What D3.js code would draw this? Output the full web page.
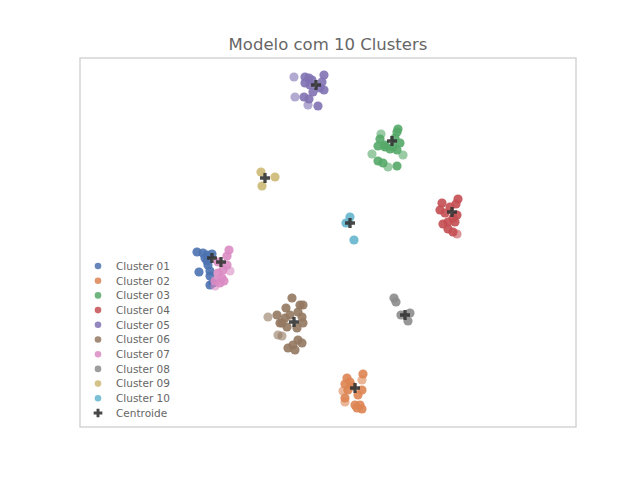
<!DOCTYPE html>
<html>
<head>
<meta charset="utf-8">
<script src="https://cdn.jsdelivr.net/npm/d3@7"></script>
<style>
  html, body { margin: 0; padding: 0; background: #fff; }
  svg { display: block; font-family: "DejaVu Sans", sans-serif; }
</style>
</head>
<body>
<svg id="chart" width="640" height="480"></svg>
<script>
// ---- Data (points as [x, y, faded]) ----
const clusterNames = ["Cluster 01","Cluster 02","Cluster 03","Cluster 04","Cluster 05",
                      "Cluster 06","Cluster 07","Cluster 08","Cluster 09","Cluster 10"];
const centroidLabel = "Centroide";
const titleText = "Modelo com 10 Clusters";

const cluster01 = [[11.7,17.5,0],[12.3,17.4,0],[12.7,17.2,0],[13.2,17.3,0],[12.7,16.6,0],[12.8,16.2,0],
  [11.9,15.5,0],[13.0,15.6,0],[13.0,15.1,0],[13.0,14.2,0],[13.3,14.4,0],[12.5,16.9,0]];
const cluster02 = [[26.7,4.9,0],[27.0,4.5,0],[26.5,4.3,0],[28.3,5.3,0],[28.2,4.7,1],[26.8,3.7,0],
  [28.2,3.7,0],[26.3,3.6,1],[27.8,3.2,0],[26.5,2.9,0],[26.5,2.5,1],[27.5,2.2,0],[28.0,2.2,0],
  [28.2,1.8,0],[27.7,1.9,0],[27.2,4.1,0]];
const cluster03 = [[31.8,29.8,0],[31.7,29.5,0],[30.1,29.3,1],[31.5,28.9,0],[30.0,28.8,0],[32.0,28.4,0],
  [29.8,28.1,0],[30.5,28.0,0],[31.0,27.8,0],[31.7,27.7,0],[29.2,27.3,1],[32.3,27.2,1],[29.8,26.6,0],
  [30.3,26.4,0],[30.8,26.0,1],[31.7,26.1,0],[30.5,28.2,0],[31.3,28.0,0]];
const cluster04 = [[37.8,22.8,0],[37.6,22.3,0],[36.2,22.4,0],[36.0,21.7,0],[36.5,21.4,0],[37.7,21.2,0],
  [37.3,20.9,0],[36.8,20.5,0],[37.5,20.5,0],[36.3,20.3,0],[36.8,19.8,0],[37.3,19.5,0],[37.7,19.3,1],
  [37.0,22.0,0]];
const cluster05 = [[21.4,35.0,1],[22.5,35.0,0],[22.9,34.9,0],[24.4,35.2,0],[22.5,34.4,0],[23.0,34.2,0],
  [24.0,33.9,0],[24.4,33.7,0],[23.3,33.5,0],[21.5,33.0,1],[22.4,33.0,0],[22.9,32.8,0],[22.8,32.2,1],
  [23.8,32.1,0],[24.2,34.5,0],[23.2,34.7,0]];
const cluster06 = [[18.8,11.0,1],[19.7,11.2,0],[20.0,10.4,0],[20.5,10.9,0],[20.6,11.9,0],[21.2,12.9,0],
  [22.0,12.2,0],[22.3,12.2,0],[21.8,11.5,0],[22.2,11.0,0],[22.3,10.4,0],[21.7,9.9,0],[20.7,10.0,0],
  [19.8,9.2,1],[20.2,9.1,1],[21.8,8.7,0],[22.2,8.4,0],[21.3,8.2,0],[20.8,7.9,0],[21.5,7.7,0],
  [20.2,10.4,0],[21.0,11.2,0]];
const cluster07 = [[14.9,17.7,0],[14.7,17.1,0],[14.7,16.2,0],[15.0,15.6,1],[13.8,15.4,0],[14.2,14.9,0],
  [13.5,14.6,0],[13.5,14.1,1],[14.0,14.4,0],[14.3,15.7,0],[14.4,14.6,0],[13.8,16.5,0]];
const cluster08 = [[31.4,12.9,0],[31.6,12.5,0],[32.1,11.2,0],[33.0,11.4,0],[32.8,10.6,0]];
const cluster09 = [[18.1,25.5,0],[19.5,25.0,0],[18.2,24.1,0]];
const cluster10 = [[27.0,21.0,0],[26.6,20.4,0],[27.4,18.7,0]];

const centroidsX = [13.2, 27.5, 31.2, 37.2, 23.6, 21.4, 14.1, 32.5, 18.5, 27.0];
const centroidsY = [16.9, 3.9, 28.6, 21.5, 34.2, 10.5, 16.5, 11.2, 24.9, 20.4];

const clusters = [cluster01, cluster02, cluster03, cluster04, cluster05,
                  cluster06, cluster07, cluster08, cluster09, cluster10];

// ---- Styles ----
const palette = ["#4C72B0","#DD8452","#55A868","#C44E52","#8172B3",
                 "#937860","#DA8BC3","#8C8C8C","#CCB974","#64B5CD"];

const svg = d3.select("#chart");
const frame = {left: 80, right: 576, top: 58, bottom: 427};

const x = d3.scaleLinear().domain([0, 49.6]).range([frame.left, frame.right]);
const y = d3.scaleLinear().domain([0, 36.9]).range([frame.bottom, frame.top]);

// Title
svg.append("text")
  .attr("x", 328).attr("y", 50)
  .attr("text-anchor", "middle")
  .attr("font-size", 16.5)
  .attr("fill", "#666666")
  .text(titleText);

// Frame
svg.append("rect")
  .attr("x", frame.left).attr("y", frame.top)
  .attr("width", frame.right - frame.left)
  .attr("height", frame.bottom - frame.top)
  .attr("fill", "none")
  .attr("stroke", "#cccccc")
  .attr("stroke-width", 1.25);

// Points
const pts = svg.append("g");
clusters.forEach((pts_, i) => {
  pts.selectAll(null)
    .data(pts_)
    .enter().append("circle")
    .attr("cx", d => x(d[0]))
    .attr("cy", d => y(d[1]))
    .attr("r", 4.6)
    .attr("fill", palette[i])
    .attr("fill-opacity", d => d[2] ? 0.6 : 0.9);
});

// Centroids
const cross = d3.symbol().type(d3.symbolCross).size(55);
svg.append("g").selectAll("path")
  .data(d3.range(centroidsX.length))
  .enter().append("path")
  .attr("d", cross)
  .attr("transform", i => `translate(${x(centroidsX[i])},${y(centroidsY[i])})`)
  .attr("fill", "#333333")
  .attr("fill-opacity", 0.9);

// Legend
const leg = svg.append("g");
const legY0 = 266, legDy = 14.7;
clusterNames.forEach((name, i) => {
  leg.append("circle")
    .attr("cx", 98).attr("cy", legY0 + i * legDy)
    .attr("r", 3.3)
    .attr("fill", palette[i])
    .attr("fill-opacity", 0.85);
  leg.append("text")
    .attr("x", 116).attr("y", legY0 + i * legDy + 3.8)
    .attr("font-size", 10.5)
    .attr("fill", "#666666")
    .text(name);
});
const cy = legY0 + clusterNames.length * legDy;
leg.append("path")
  .attr("d", d3.symbol().type(d3.symbolCross).size(42))
  .attr("transform", `translate(98,${cy})`)
  .attr("fill", "#333333")
  .attr("fill-opacity", 0.9);
leg.append("text")
  .attr("x", 116).attr("y", cy + 3.8)
  .attr("font-size", 10.5)
  .attr("fill", "#666666")
  .text(centroidLabel);
</script>
</body>
</html>
